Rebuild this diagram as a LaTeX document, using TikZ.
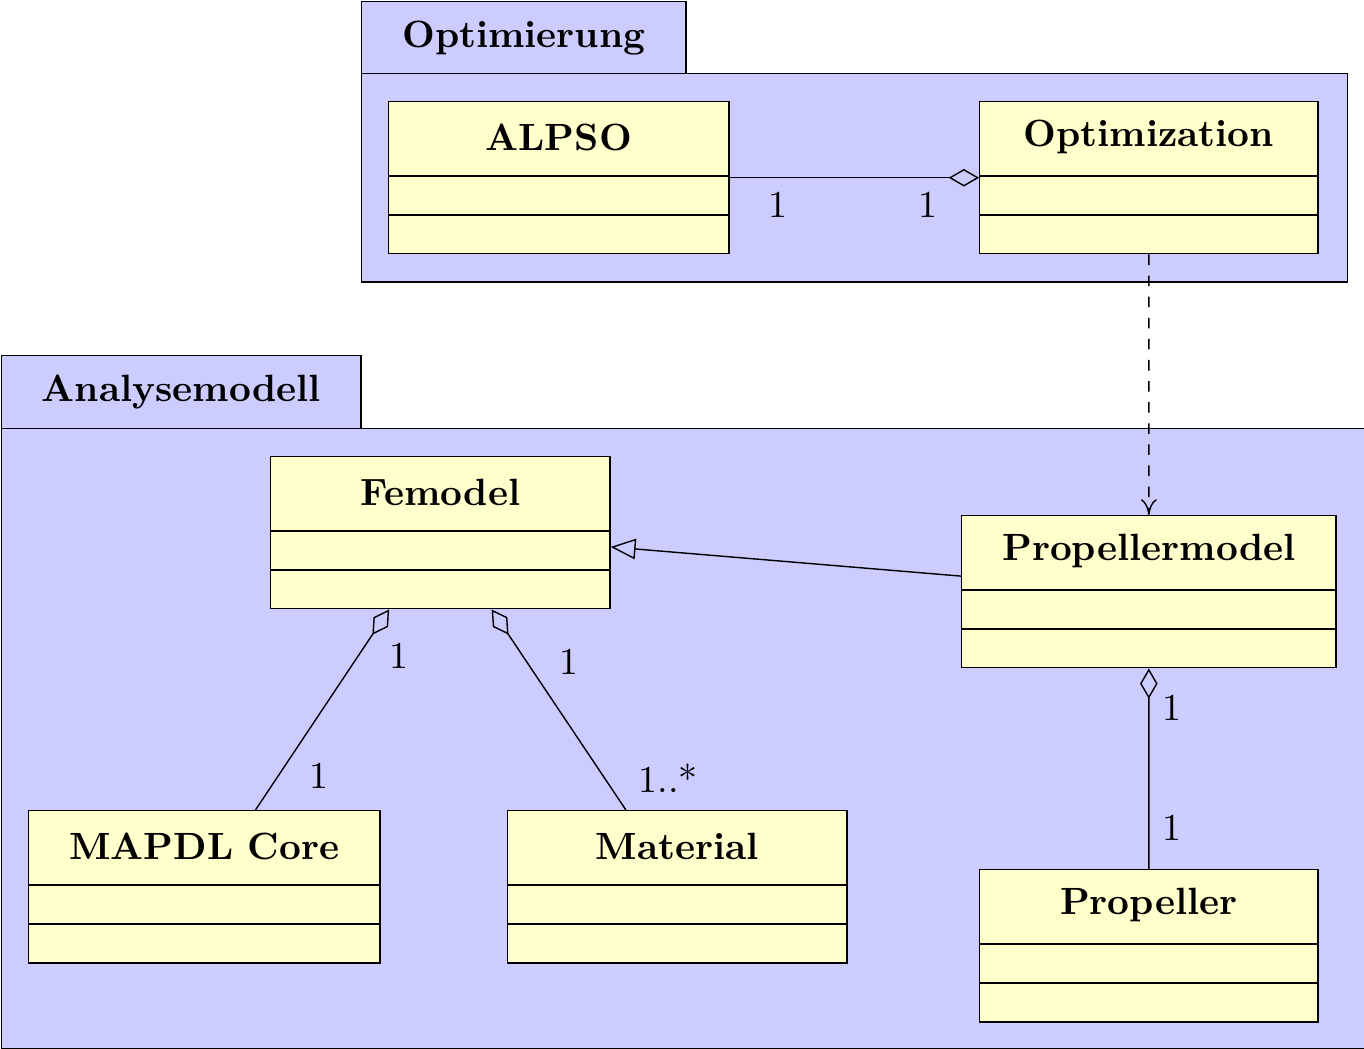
\documentclass[tikz,border=0pt]{standalone}
\usetikzlibrary{arrows.meta,calc}
\definecolor{pkgblue}{RGB}{204,204,255}
\definecolor{clsyellow}{RGB}{255,255,204}
\newcommand{\mycls}[5]{%
  \node[clsbox, minimum width=#4, anchor=north west] (#1) at (#2,#3) {};
  \node[clstitle] (#1-t) at ($(#1.north)+(0,36)$) {#5};
  \draw ($(#1.north west)+(0,75)$) -- ($(#1.north east)+(0,75)$);
  \draw ($(#1.north west)+(0,114)$) -- ($(#1.north east)+(0,114)$);
}
\begin{document}
\begin{tikzpicture}[x=0.01cm,y=-0.01cm,
  font=\fontsize{10.8}{13}\selectfont,
  pkg/.style={draw, fill=pkgblue, inner sep=0pt, anchor=north west},
  pkgtitle/.style={font=\fontsize{10.8}{13}\selectfont\bfseries},
  clsbox/.style={draw, fill=clsyellow, inner sep=0pt, minimum height=1.52cm},
  clstitle/.style={font=\fontsize{10.8}{13}\selectfont\bfseries, inner sep=0pt},
  mult/.style={inner sep=0pt},
  agg/.style={{Diamond[open,length=8.6pt,width=5pt]}-},
  inh/.style={-{Triangle[open,length=7.1pt,width=5.8pt]}},
  dep/.style={dashed,-{To[length=4.5pt,width=4.5pt]}}]
\useasboundingbox (0,0) rectangle (1364,1049);
% packages
\node[pkg, minimum width=3.24cm, minimum height=0.72cm] (optTab) at (361,1) {};
\node[pkgtitle] (optTab-t) at (optTab.center) {Optimierung};
\node[pkg, minimum width=9.85cm, minimum height=2.08cm] (optBody) at (361,73) {};
\node[pkg, minimum width=3.59cm, minimum height=0.73cm] (anaTab) at (1,355) {};
\node[pkgtitle] (anaTab-t) at (anaTab.center) {Analysemodell};
\node[pkg, minimum width=13.62cm, minimum height=6.20cm] (anaBody) at (1,428) {};
% classes
\mycls{alpso}{388}{101}{3.40cm}{ALPSO}
\mycls{optimization}{979}{101}{3.38cm}{Optimization}
\mycls{femodel}{270}{456}{3.39cm}{Femodel}
\mycls{propellermodel}{961}{515}{3.74cm}{Propellermodel}
\mycls{mapdl}{28}{810}{3.51cm}{MAPDL Core}
\mycls{material}{507}{810}{3.39cm}{Material}
\mycls{propeller}{979}{869}{3.38cm}{Propeller}
% connectors
\draw[agg] (optimization) -- (alpso);
\draw[dep] (optimization) -- (propellermodel);
\draw[inh] (propellermodel) -- (femodel);
\draw[agg] (femodel) -- (mapdl);
\draw[agg] (femodel) -- (material);
\draw[agg] (propellermodel) -- (propeller);
% multiplicities
\node[mult] (m1) at (778,205) {1};
\node[mult] (m2) at (928,205) {1};
\node[mult] (m3) at (399,656) {1};
\node[mult] (m4) at (319,776) {1};
\node[mult] (m5) at (569,662) {1};
\node[mult] (m6) at (668,778) {1..*};
\node[mult] (m7) at (1172,708) {1};
\node[mult] (m8) at (1172,828) {1};
\end{tikzpicture}
\end{document}
